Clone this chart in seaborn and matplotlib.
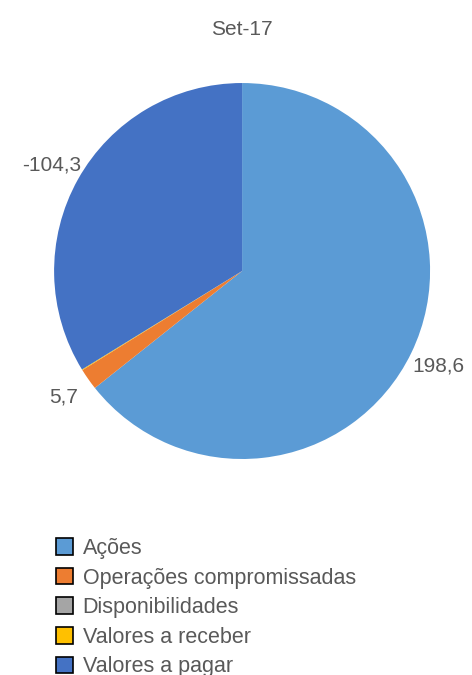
import matplotlib
matplotlib.use("Agg")
import matplotlib.pyplot as plt
from matplotlib.patches import Patch
import seaborn as sns

# data (R$ milhões, Set-17)
categorias = ["Ações", "Operações compromissadas", "Disponibilidades",
              "Valores a receber", "Valores a pagar"]
valores = [198.6, 5.7, 0.0, 0.2, -104.3]
cores = ["#5B9BD5", "#ED7D31", "#A5A5A5", "#FFC000", "#4472C4"]
titulo = "Set-17"

sns.set_style("white")
plt.rcParams["font.family"] = ["Liberation Sans", "DejaVu Sans"]
cinza = "#595959"

fig = plt.figure(figsize=(4.72, 6.75), dpi=100)
ax = fig.add_axes([0.1144, 0.32, 0.797, 0.557])

rotulos = [f"{v:.1f}".replace(".", ",") if abs(v) >= 1 else "" for v in valores]
wedges, textos = ax.pie(
    [abs(v) for v in valores],
    labels=rotulos,
    colors=sns.color_palette(cores),
    startangle=90,
    counterclock=False,
    labeldistance=1.16,
    wedgeprops=dict(linewidth=0),
    textprops=dict(color=cinza, fontsize=15, clip_on=False),
)
for t in textos:
    t.set_horizontalalignment("center")
    t.set_verticalalignment("center")
ax.set_xlim(-1, 1)
ax.set_ylim(-1, 1)
ax.set_aspect("equal")
ax.axis("off")

fig.text(0.513, 0.957, titulo, ha="center", va="center", color=cinza, fontsize=15)

handles = [Patch(facecolor=c, edgecolor="black", linewidth=1.2) for c in cores]
fig.legend(handles, categorias, loc="upper left", bbox_to_anchor=(0.118, 0.203),
           frameon=False, fontsize=15.5, labelcolor=cinza, handlelength=0.8,
           handleheight=0.8, handletextpad=0.45, labelspacing=0.4,
           borderaxespad=0, borderpad=0)

fig.savefig("out.png", dpi=100)
